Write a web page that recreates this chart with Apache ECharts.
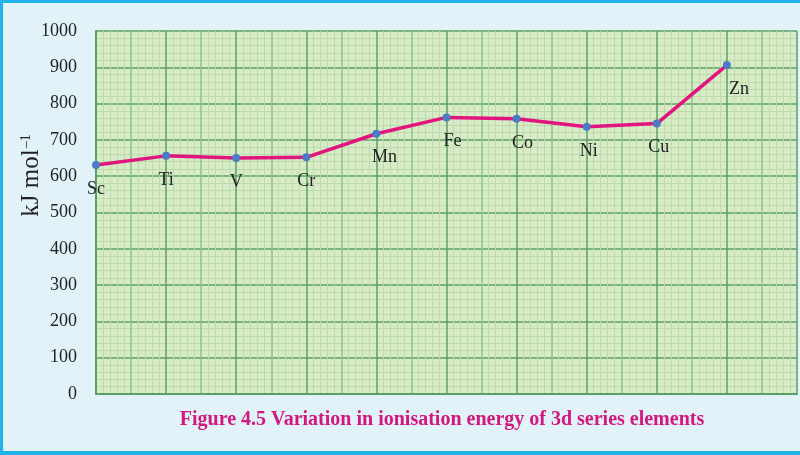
<!DOCTYPE html>
<html>
<head>
<meta charset="utf-8">
<script src="https://cdn.jsdelivr.net/npm/echarts@6/dist/echarts.min.js"></script>
<style>
html,body{margin:0;padding:0;background:#e1f2f9;overflow:hidden;}
#c{width:800px;height:455px;}
</style>
</head>
<body>
<div id="c"></div>
<script>
const elements = ['Sc','Ti','V','Cr','Mn','Fe','Co','Ni','Cu','Zn'];
const ionisationEnergy = [631, 656, 650, 652, 717, 762, 758, 736, 745, 906];
const yTicks = [0,100,200,300,400,500,600,700,800,900,1000];
const titleText = 'Figure 4.5 Variation in ionisation energy of 3d series elements';

const labelShift = {Mn:[8,0], Fe:[6,0], Co:[6,0], Ni:[2,0], Cu:[2,0], Zn:[12,0]};
const serif = '"Liberation Serif","DejaVu Serif",serif';

const chart = echarts.init(document.getElementById('c'));
chart.setOption({
  backgroundColor: '#e1f2f9',
  animation: false,
  title: {
    text: titleText,
    left: 437, top: 405, textAlign: 'center',
    textStyle: {fontFamily: serif, fontWeight: 'bold', fontSize: 20, color: '#d4167f'}
  },
  grid: {left: 96, right: 3, top: 31, bottom: 61, show: true, backgroundColor: '#d7ebc7', borderWidth: 0,
         containLabel: false, outerBoundsMode: 'none'},
  xAxis: {
    type: 'value', min: 0, max: 10, interval: 0.5,
    axisLabel: {show: false}, axisTick: {show: false},
    axisLine: {show: true, lineStyle: {color: '#5c9f65', width: 2}},
    splitLine: {show: true, lineStyle: {color: ['#5c9f65', '#8cc28e'], width: 1.5}},
    minorTick: {show: false, splitNumber: 5},
    minorSplitLine: {show: true, lineStyle: {color: '#bddaaa', width: 1}}
  },
  yAxis: {
    type: 'value', min: 0, max: 1000, interval: 100,
    name: '{a|kJ mol}{b|\u20131}', nameLocation: 'middle', nameGap: 52, nameRotate: 90,
    nameMoveOverlap: false,
    nameTextStyle: {
      fontFamily: serif, fontSize: 25, color: '#222', padding: [0, 0, 0, 74],
      rich: {
        a: {fontFamily: serif, fontSize: 25, color: '#222'},
        b: {fontFamily: serif, fontSize: 14, color: '#222', verticalAlign: 'top', padding: [0, 0, 10, 1]}
      }
    },
    axisLabel: {margin: 19, fontFamily: serif, fontSize: 18, color: '#222',
      formatter: v => yTicks.includes(v) ? String(v) : ''},
    axisTick: {show: false},
    axisLine: {show: true, lineStyle: {color: '#5c9f65', width: 2}},
    splitLine: {show: true, lineStyle: {color: '#5c9f65', width: 1.5}},
    minorTick: {show: false, splitNumber: 5},
    minorSplitLine: {show: true, lineStyle: {color: '#bddaaa', width: 1}}
  },
  graphic: [
    {type: 'rect', shape: {x: 0, y: 0, width: 800, height: 3}, style: {fill: '#22b3e8'}, z: 100},
    {type: 'rect', shape: {x: 0, y: 0, width: 3, height: 455}, style: {fill: '#22b3e8'}, z: 100},
    {type: 'rect', shape: {x: 0, y: 451, width: 800, height: 4}, style: {fill: '#22b3e8'}, z: 100}
  ],
  series: [{
    type: 'line',
    data: elements.map((e, i) => ({
      value: [i, ionisationEnergy[i]],
      label: {offset: labelShift[e] || [0, 0]}
    })),
    lineStyle: {color: '#e2157f', width: 3.5},
    symbol: 'circle', symbolSize: 8,
    itemStyle: {color: '#4b7bc4'},
    label: {
      show: true, position: 'bottom', distance: 11,
      fontFamily: serif, fontSize: 18, color: '#222',
      formatter: p => elements[p.dataIndex]
    },
    z: 10
  }]
});
</script>
</body>
</html>
